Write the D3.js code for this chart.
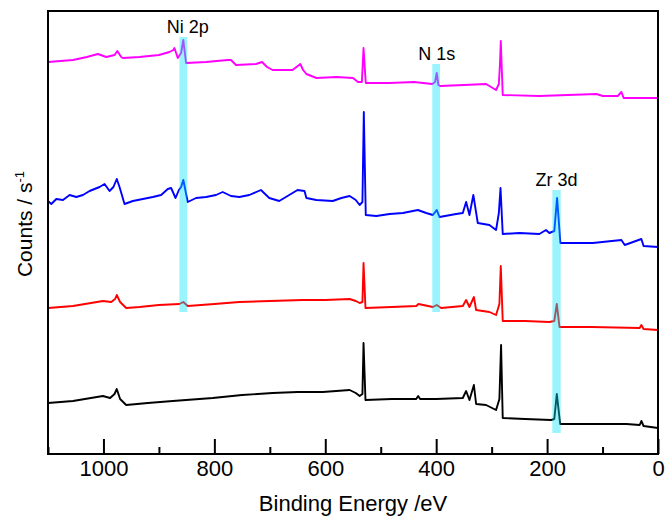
<!DOCTYPE html>
<html>
<head>
<meta charset="utf-8">
<script src="https://cdn.jsdelivr.net/npm/d3@7"></script>
<style>
  html, body { margin: 0; padding: 0; background: #fff; }
  svg { display: block; font-family: "Liberation Sans", Arial, Helvetica, sans-serif; }
</style>
</head>
<body>
<svg id="chart" width="667" height="520"></svg>
<script>
// ---------------- data: [binding energy (eV), intensity (arbitrary counts)] ----------------
const spectrumMagenta = [
  [1100,392],[1078,393],[1055,394],[1030,397],[1010,400],[995,397],[980,399],[975,403],[968,397],[965,396],
  [935,397],[900,399],[881,402],[874,404],[872,406],[866,396],[860,401],[856,414],[851,391],[815,392],
  [776,394],[770,394],[761,389],[725,390],[714,392],[705,387],[695,384],[659,384],[645,390],[640,384],
  [634,380],[616,376],[580,377],[550,376],[541,372],[534,372],[531,406],[527,371],[484,371],[440,372],
  [407,370],[402,372],[399,381],[396,369],[393,368],[350,369],[310,370],[292,364],[287,370],[285,390],
  [283.5,413],[280,359],[214,358],[111,360],[99.5,358],[72.5,358],[66,362],[62,356],[0,356]
];
const spectrumBlue = [
  [1100,253],[1094,250],[1085,255],[1073,254],[1061,259],[1049,257],[1037,259],[1025,263],[1016,265],[1007,267],
  [998,270],[989,263],[982,267],[976,275],[971,267],[962,250],[947,253],[929,255],[911,257],[896,259],
  [884,265],[878,266],[870,256],[864,264],[860,267],[856,274],[848,252],[833,256],[815,257],[797,259],
  [785,262],[770,258],[755,257],[737,259],[716,264],[701,256],[683,253],[665,259],[650,264],[637.5,263],
  [634,256],[616,254],[586.5,253],[571,256],[556,258],[545,254],[538,249],[533,252],[530.5,342],[527,239],
  [508,238],[484,240],[460,241],[433,244],[418,241],[406,239],[399,244],[394,237],[364,240],[352,241],
  [346,252],[340,239],[333,259],[325,231],[304,229],[292,224],[287,241],[284,266],[280,220],[250,221],
  [214,220],[202,224],[196,221],[187,223],[182,256],[176,211],[117.5,211],[66,214],[60,209],[30,215],
  [26,208],[0,207]
];
const spectrumRed = [
  [1100,146],[1055,148],[1001,153],[986,152],[979,155],[976,159],[970,152],[959,146],[935,147],[900,149],
  [863,150],[856,152],[848,148],[800,150],[755,152],[700,153],[640.5,154],[600,154],[556,155],[545,153],
  [538,151],[533,152],[531,191],[527.5,146],[480,147],[436,148],[432,150],[406,147],[399,149],[391,146],
  [352,148],[346,154],[340,147],[332,157],[328,144],[304,142],[292,139],[286,150],[283.5,188],[280,133],
  [240,133],[196,132],[187,133],[182.5,150],[177.6,127],[120,127],[33,126],[30,129],[26,125],[0,124]
];
const spectrumBlack = [
  [1100,51],[1055,53],[1001,58],[988,56],[980,60],[976,65],[970,55],[959,49],[920,51],[875,53],
  [803,56],[750,59],[695,61],[650,62],[604.5,62],[556,64],[545,61],[538,58],[533,60],[531,111],
  [527.5,54],[480,55],[436,55],[432.5,58],[429,55],[400,55],[352,56],[346,63],[340,54],[332,69],
  [328,50],[310,49],[292,44],[286,55],[283,109],[280,36],[240,35],[192.6,34],[187,35],[182.5,60],
  [176.4,30],[57,30],[33,29],[30,33],[26,28],[0,26]
];

const seriesColors = ["#ff00ff", "#0000ff", "#ff0000", "#000000"];

// highlighted core levels
const bandLabels  = ["Ni 2p", "N 1s", "Zr 3d"];
const bandCenters = [856, 400, 183];
const bandWidthEV = [14, 14, 15];
const bandTop     = [417, 390, 264];
const bandBottom  = [142, 142, 21];
const labelEnergy = [848, 399, 183];
const labelCounts = [421, 394, 268];

const xTicksMajor = [1000, 800, 600, 400, 200, 0];
const xTicksMinor = [1100, 900, 700, 500, 300, 100];

// ---------------- layout ----------------
const svg = d3.select("#chart");
const plotL = 48, plotR = 658, plotT = 11, plotB = 454;
const fontSize = 22;

const x = d3.scaleLinear().domain([1100, 0]).range([plotL, plotR]);
const y = d3.scaleLinear().domain([0, 443]).range([plotB, plotT]);

svg.append("defs").append("clipPath").attr("id", "plotclip")
  .append("rect").attr("x", plotL).attr("y", plotT).attr("width", plotR - plotL).attr("height", plotB - plotT);

const seriesData = [spectrumMagenta, spectrumBlue, spectrumRed, spectrumBlack];
const line = d3.line().x(d => x(d[0])).y(d => y(d[1]));

const g = svg.append("g").attr("clip-path", "url(#plotclip)");
g.selectAll("path.trace").data(seriesData).join("path")
  .attr("class", "trace")
  .attr("d", line)
  .attr("fill", "none")
  .attr("stroke", (d, i) => seriesColors[i])
  .attr("stroke-width", 1.9)
  .attr("stroke-linejoin", "round");

// translucent cyan bands over the traces
svg.selectAll("rect.band").data(bandCenters).join("rect")
  .attr("class", "band")
  .attr("x", (d, i) => x(d + bandWidthEV[i] / 2))
  .attr("width", (d, i) => x(d - bandWidthEV[i] / 2) - x(d + bandWidthEV[i] / 2))
  .attr("y", (d, i) => y(bandTop[i]))
  .attr("height", (d, i) => y(bandBottom[i]) - y(bandTop[i]))
  .attr("fill", "rgb(0,228,250)")
  .attr("fill-opacity", 0.4);

svg.selectAll("text.bandlabel").data(bandLabels).join("text")
  .attr("class", "bandlabel")
  .attr("x", (d, i) => x(labelEnergy[i]))
  .attr("y", (d, i) => y(labelCounts[i]))
  .attr("text-anchor", "middle")
  .attr("font-size", 18)
  .attr("fill", "#000")
  .text(d => d);

// frame
svg.append("rect")
  .attr("x", plotL).attr("y", plotT)
  .attr("width", plotR - plotL).attr("height", plotB - plotT)
  .attr("fill", "none").attr("stroke", "#000").attr("stroke-width", 2);

// bottom axis (ticks pointing inward)
const axisMajor = d3.axisBottom(x).tickValues(xTicksMajor).tickSizeInner(-15).tickSizeOuter(0).tickPadding(6).tickFormat(d3.format("d"));
const axG = svg.append("g").attr("transform", `translate(0,${plotB})`).call(axisMajor);
axG.select(".domain").remove();
axG.selectAll(".tick line").attr("stroke", "#000").attr("stroke-width", 2);
axG.selectAll(".tick text").attr("font-size", fontSize).attr("fill", "#000").attr("font-family", null);

const axisMinor = d3.axisBottom(x).tickValues(xTicksMinor).tickSizeInner(-7).tickSizeOuter(0).tickFormat("");
const axM = svg.append("g").attr("transform", `translate(0,${plotB})`).call(axisMinor);
axM.select(".domain").remove();
axM.selectAll(".tick line").attr("stroke", "#000").attr("stroke-width", 2);

// axis titles
svg.append("text")
  .attr("x", (plotL + plotR) / 2).attr("y", 511)
  .attr("text-anchor", "middle").attr("font-size", fontSize)
  .text("Binding Energy /eV");

const yt = svg.append("text")
  .attr("transform", "translate(32,224) rotate(-90)")
  .attr("text-anchor", "middle").attr("font-size", 21);
yt.append("tspan").text("Counts / s");
yt.append("tspan").attr("font-size", 13).attr("dy", -8).text("-1");
</script>
</body>
</html>
